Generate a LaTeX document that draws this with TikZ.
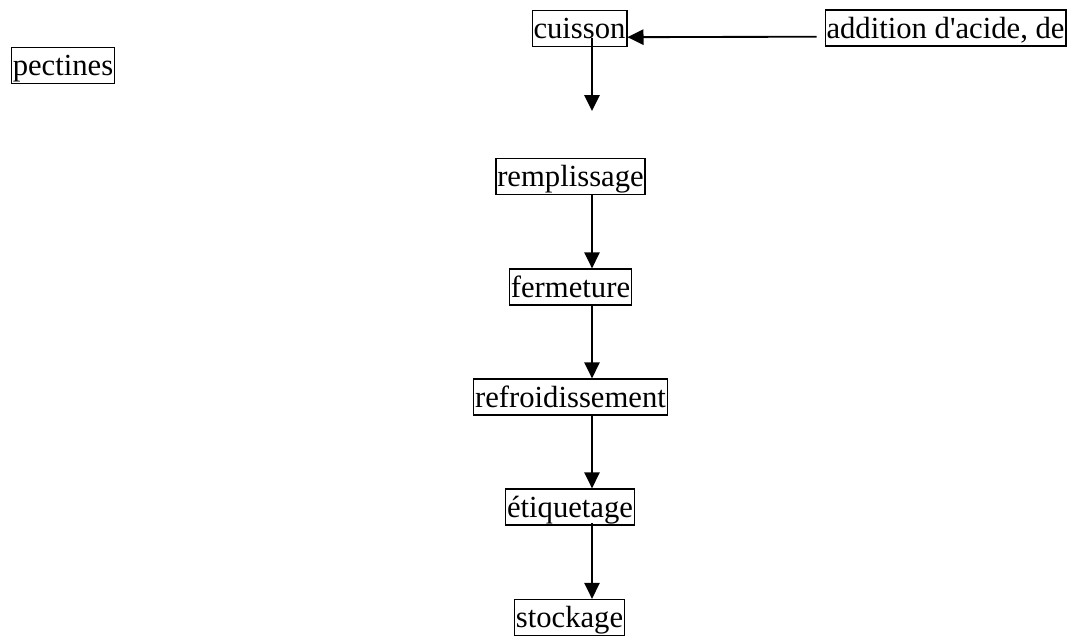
\documentclass[tikz,border=0pt]{standalone}
\usepackage{fontspec}
\setmainfont{Liberation Serif}
\usetikzlibrary{arrows.meta}
\tikzset{stage/.style={
			draw, line width=1pt, rectangle,
			inner xsep=1pt, inner ysep=0.5pt,
			text height=20.5pt, text depth=5.5pt,
			font=\fontsize{23}{27}\selectfont
		},
	flow/.style={
			line width=1.4pt,
			-{Triangle[length=12pt, width=11.5pt]}
		}}

\begin{document}
\begin{tikzpicture}[x=0.75pt, y=-0.75pt]
	\useasboundingbox (0, 0) rectangle (1071, 637);

	\node[stage] (pectines) at (63, 65.5) {pectines};
	\node[stage] (cuisson) at (579.5, 28.5) {cuisson};
	\node[stage] (addition) at (945.5, 28) {addition d\textquotesingle acide, de};
	\node[stage] (remplissage) at (570.5, 176.5) {remplissage};
	\node[stage] (fermeture) at (570.5, 287) {fermeture};
	\node[stage] (refroid) at (570.5, 397) {refroidissement};
	\node[stage] (etiquetage) at (570, 507) {étiquetage};
	\node[stage] (stockage) at (569.5, 617.5) {stockage};
	\coordinate (cuisson-end) at (592, 111);

	\draw[flow, shorten <=6pt]
	([yshift=-6.5pt]addition.west) -- ([yshift=-6.5pt]cuisson.east);
	\draw[flow, shorten <=-7pt]
	(cuisson.south -| cuisson-end) -- (cuisson-end);
	\draw[flow]
	(remplissage.south -| cuisson-end) -- (fermeture.north -| cuisson-end);
	\draw[flow]
	(fermeture.south -| cuisson-end) -- (refroid.north -| cuisson-end);
	\draw[flow]
	(refroid.south -| cuisson-end) -- (etiquetage.north -| cuisson-end);
	\draw[flow, shorten <=-2pt]
	(etiquetage.south -| cuisson-end) -- (stockage.north -| cuisson-end)
	;

\end{tikzpicture}
\end{document}
